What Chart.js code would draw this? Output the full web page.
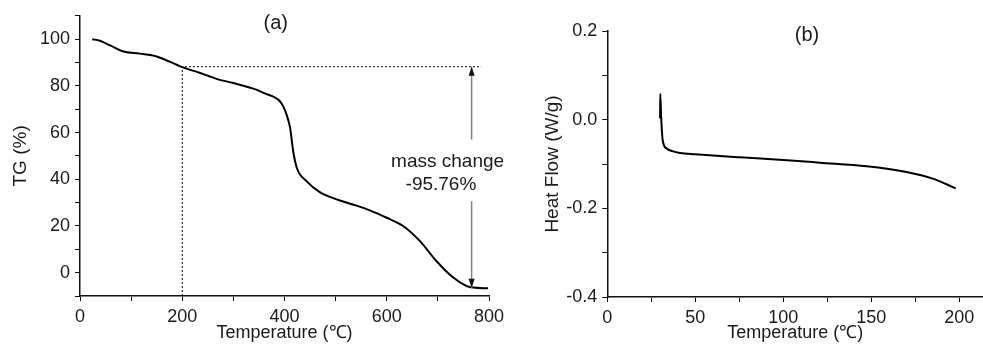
<!DOCTYPE html>
<html>
<head>
<meta charset="utf-8">
<script src="https://cdn.jsdelivr.net/npm/chart.js@4.4.0/dist/chart.umd.min.js"></script>
<style>
  html, body { margin: 0; padding: 0; background: #fff; }
  #wrap { position: relative; width: 983px; height: 346px; overflow: hidden; }
  #tg { position: absolute; left: 0; top: 0; }
  #dsc { position: absolute; left: 530px; top: 0; }
</style>
</head>
<body>
<div id="wrap">
  <canvas id="tg" width="540" height="346"></canvas>
  <canvas id="dsc" width="453" height="346"></canvas>
</div>
<script>
// (a) TG curve
const tgTemp = [24, 39, 59, 85, 117, 150, 200, 235, 267, 300, 339, 365, 380, 391, 398, 404, 411, 417, 424, 443, 469, 502, 534, 567, 600, 632, 665, 697, 730, 756, 769, 798];
const tgMass = [100, 99.3, 97.3, 94.7, 93.8, 92.6, 88, 85.5, 83, 81.2, 78.8, 76.5, 75.2, 73.4, 71, 67.7, 62, 52, 44.9, 39.2, 34.5, 31.4, 29.2, 26.7, 23.5, 20, 13.5, 5, -2.1, -5.7, -6.4, -6.7];
// guide lines at 200 C / 88.2 %
const guideTemp = [200, 200, 785];
const guideMass = [-10, 88.2, 88.2];

// (b) DSC curve
const dscTemp = [30, 30.1, 30.6, 31.5, 33.7, 37, 41.3, 50, 75.4, 100, 120.8, 147.4, 170, 185, 198];
const dscFlow = [0.003, 0.058, 0.006, -0.047, -0.065, -0.071, -0.075, -0.078, -0.085, -0.091, -0.097, -0.105, -0.118, -0.133, -0.155];

const FONT = "'Liberation Sans', Arial, sans-serif";
Chart.defaults.font.family = FONT;
Chart.defaults.font.size = 18;
Chart.defaults.color = "#1a1a1a";

function pts(xs, ys) {
    return xs.map((x, i) => ({ x: x, y: ys[i] }));
}

function arrow(ctx, x, y1, y2) {
    ctx.save();
    ctx.strokeStyle = "#808080";
    ctx.fillStyle = "#111";
    ctx.lineWidth = 1.5;
    ctx.beginPath();
    ctx.moveTo(x, y1);
    ctx.lineTo(x, y2);
    ctx.stroke();
    const d = y2 > y1 ? 1 : -1;
    ctx.beginPath();
    ctx.moveTo(x, y2);
    ctx.lineTo(x - 3, y2 - d * 9);
    ctx.lineTo(x + 3, y2 - d * 9);
    ctx.closePath();
    ctx.fill();
    ctx.restore();
}

const tgNotes = {
    id: "tgNotes",
    afterDatasetsDraw(chart) {
        const { ctx, scales: { x, y } } = chart;
        ctx.save();
        ctx.fillStyle = "#1a1a1a";
        ctx.textAlign = "center";
        ctx.textBaseline = "middle";
        ctx.font = "20px " + FONT;
        ctx.fillText("(a)", x.getPixelForValue(383), y.getPixelForValue(106.7));
        ctx.font = "19px " + FONT;
        ctx.fillText("mass change", x.getPixelForValue(719), y.getPixelForValue(47.3));
        ctx.fillText("-95.76%", x.getPixelForValue(706), y.getPixelForValue(37.8));
        ctx.restore();
        const ax = x.getPixelForValue(766);
        arrow(ctx, ax, y.getPixelForValue(57), y.getPixelForValue(88.2));
        arrow(ctx, ax, y.getPixelForValue(30.6), y.getPixelForValue(-6.5));
    }
};

const dscNotes = {
    id: "dscNotes",
    afterDatasetsDraw(chart) {
        const { ctx, scales: { x, y } } = chart;
        ctx.save();
        ctx.fillStyle = "#1a1a1a";
        ctx.textAlign = "center";
        ctx.textBaseline = "middle";
        ctx.font = "20px " + FONT;
        ctx.fillText("(b)", x.getPixelForValue(113.5), y.getPixelForValue(0.189));
        ctx.restore();
    }
};

function axis(opts) {
    return {
        type: "linear",
        min: opts.min,
        max: opts.max,
        afterFit: opts.fit,
        border: { color: "#111", width: 1.5 },
        grid: { drawOnChartArea: false, drawTicks: true, tickLength: 5, color: "#111", tickWidth: 1 },
        ticks: {
            stepSize: opts.step,
            autoSkip: false,
            maxRotation: 0,
            includeBounds: false,
            padding: opts.pad,
            color: "#1a1a1a",
            font: { size: 18 },
            callback: opts.label
        },
        title: { display: true, text: opts.title, color: "#1a1a1a", font: { size: opts.tsize }, padding: opts.tpad }
    };
}

new Chart(document.getElementById("tg"), {
    type: "line",
    data: {
        datasets: [
            {
                data: pts(tgTemp, tgMass),
                borderColor: "#000",
                borderWidth: 2,
                pointRadius: 0,
                cubicInterpolationMode: "monotone"
            },
            {
                data: pts(guideTemp, guideMass),
                borderColor: "#000",
                borderWidth: 1,
                borderDash: [2, 2],
                pointRadius: 0,
                tension: 0
            }
        ]
    },
    options: {
        responsive: false,
        animation: false,
        layout: { padding: { top: 14, right: 51, left: 0, bottom: 0 } },
        plugins: { legend: { display: false }, tooltip: { enabled: false } },
        scales: {
            x: axis({
                min: 0, max: 800, step: 100, pad: 5,
                fit: s => { s.height = 50; },
                label: v => (v % 200 === 0 ? v : ""),
                title: "Temperature (℃)", tsize: 18, tpad: { top: 0, bottom: 2 }
            }),
            y: axis({
                min: -10, max: 110, step: 10, pad: 5,
                fit: s => { s.width = 80; },
                label: v => (v % 20 === 0 && v >= 0 && v <= 100 ? v : ""),
                title: "TG (%)", tsize: 19, tpad: { top: 9, bottom: 0 }
            })
        }
    },
    plugins: [tgNotes]
});

new Chart(document.getElementById("dsc"), {
    type: "line",
    data: {
        datasets: [
            {
                data: pts(dscTemp, dscFlow),
                borderColor: "#000",
                borderWidth: 2,
                pointRadius: 0,
                cubicInterpolationMode: "monotone"
            }
        ]
    },
    options: {
        responsive: false,
        animation: false,
        layout: { padding: { top: 31, right: 0, left: 0, bottom: 0 } },
        plugins: { legend: { display: false }, tooltip: { enabled: false } },
        scales: {
            x: axis({
                min: 0, max: 213.5, step: 25, pad: 5,
                fit: s => { s.height = 49; },
                label: v => (Math.round(v) % 50 === 0 ? Math.round(v) : ""),
                title: "Temperature (℃)", tsize: 18, tpad: { top: 0, bottom: 2 }
            }),
            y: axis({
                min: -0.4, max: 0.2, step: 0.1, pad: 5,
                fit: s => { s.width = 77.3; },
                label: v => (Math.abs(Math.round(v * 10)) % 2 === 0 ? v.toFixed(1) : ""),
                title: "Heat Flow (W/g)", tsize: 19, tpad: { top: 11, bottom: 0 }
            })
        }
    },
    plugins: [dscNotes]
});
</script>
</body>
</html>
